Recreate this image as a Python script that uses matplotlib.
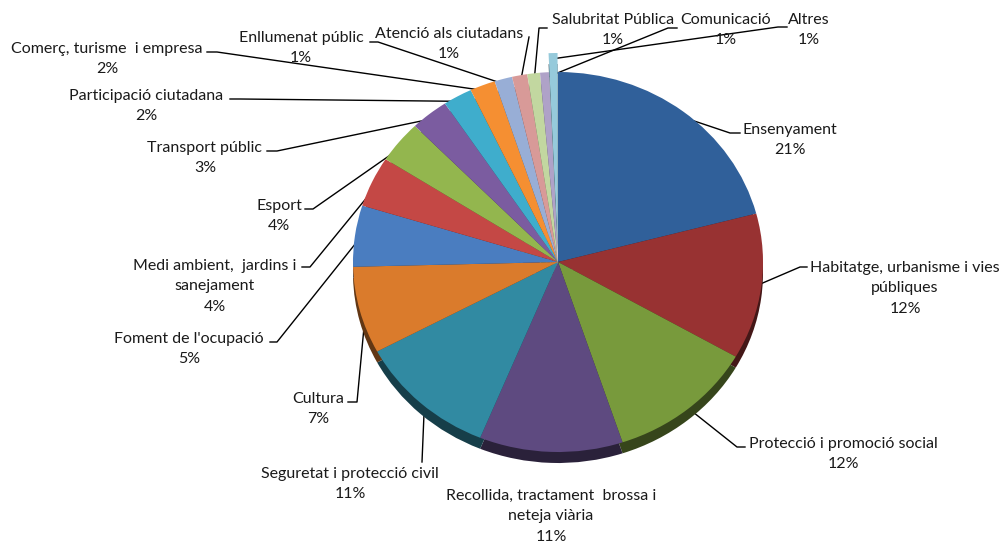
import matplotlib
matplotlib.use("Agg")
import matplotlib.pyplot as plt
import matplotlib.colors as mcolors
from matplotlib.transforms import Affine2D
import numpy as np

plt.rcParams["font.family"] = ["Lato", "DejaVu Sans"]

# data (share of budget, %)
categories = [
    "Ensenyament",
    "Habitatge, urbanisme i vies\npúbliques",
    "Protecció i promoció social",
    "Recollida, tractament  brossa i\nneteja viària",
    "Seguretat i protecció civil",
    "Cultura",
    "Foment de l'ocupació",
    "Medi ambient,  jardins i\nsanejament",
    "Esport",
    "Transport públic",
    "Participació ciutadana",
    "Comerç, turisme  i empresa",
    "Enllumenat públic",
    "Atenció als ciutadans",
    "Salubritat Pública",
    "Comunicació",
    "Altres",
]
values = [20.9, 12.4, 11.6, 11.3, 11.0, 7.4, 5.2, 4.3, 3.6, 3.0,
          2.3, 2.0, 1.4, 1.2, 1.0, 0.7, 0.7]
explode = [0] * 16 + [0.1]

colors = ["#30609A", "#983232", "#789A3C", "#5E4A80", "#318AA2", "#DA7B2C",
          "#4A7DC0", "#C44845", "#93B64E", "#7B5CA0", "#3FADCC", "#F58F32",
          "#98AED6", "#D89A98", "#C2D7A0", "#AFA2C8", "#96CADB"]

# layout in pixel coords (y down): label centre x, first-line y, leader path
label_pos = [
    (790, 129), (905, 267), (843, 443), (551, 495), (350, 473), (318, 398),
    (189, 338), (215, 265), (279, 205), (205, 147), (146, 95), (107, 48),
    (301, 37), (449, 33), (613, 19), (726, 19), (809, 19),
]
leader_path = [
    [(730, 133), (740, 133)],
    [(800, 267), (807, 267)],
    [(737, 447), (745, 447)],
    [],
    [(422, 462)],
    [(357, 402), (348, 402)],
    [(277, 342), (270, 342)],
    [(310, 267), (302, 267)],
    [(313, 209), (305, 209)],
    [(277, 151), (267, 151)],
    [(240, 99), (230, 99)],
    [(217, 52), (207, 52)],
    [(378, 42), (370, 42)],
    [(529, 37)],
    [(539, 28), (547, 28)],
    [(668, 28), (677, 28)],
    [(778, 27), (787, 27)],
]

cx, cy, rx, ry = 558, 262, 205, 190
depth = 11

fig = plt.figure(figsize=(10.02, 5.42), dpi=100)
ax = fig.add_axes([0, 0, 1, 1])

# 3D rim: darker copy shifted down
rim_colors = [tuple(c * 0.45 for c in mcolors.to_rgb(col)) for col in colors]
rim, _ = ax.pie(values, colors=rim_colors, startangle=90, counterclock=False,
                explode=explode, radius=1, center=(0, 0))
wedges, _ = ax.pie(values, colors=colors, startangle=90, counterclock=False,
                   explode=explode, radius=1, center=(0, 0))

ax.set_aspect("auto")
ax.set_xlim(0, 1002)
ax.set_ylim(542, 0)
ax.axis("off")

top_t = Affine2D().scale(rx, -ry).translate(cx, cy)
rim_t = Affine2D().scale(rx, -ry).translate(cx, cy + depth)
for w in rim:
    w.set_transform(rim_t + ax.transData)
    w.set_zorder(2)
    w.set_linewidth(0)
for w in wedges:
    w.set_transform(top_t + ax.transData)
    w.set_zorder(3)
    w.set_linewidth(0)

# labels + leader lines
total = sum(values)
for i, (w, name) in enumerate(zip(wedges, categories)):
    theta = np.deg2rad((w.theta1 + w.theta2) / 2)
    ox, oy = w.center
    sx = cx + rx * (ox + 0.97 * np.cos(theta))
    sy = cy - ry * (oy + 0.97 * np.sin(theta))
    if leader_path[i]:
        xs = [sx] + [p[0] for p in leader_path[i]]
        ys = [sy] + [p[1] for p in leader_path[i]]
        ax.plot(xs, ys, color="black", lw=1, zorder=1)
    lx, ly = label_pos[i]
    pct = round(values[i] / total * 100)
    ax.text(lx, ly - 6, f"{name}\n{pct}%", ha="center", va="top",
            multialignment="center", fontsize=11.5, linespacing=1.58,
            color="#1a1a1a", zorder=4)

fig.savefig("out.png", dpi=100)
